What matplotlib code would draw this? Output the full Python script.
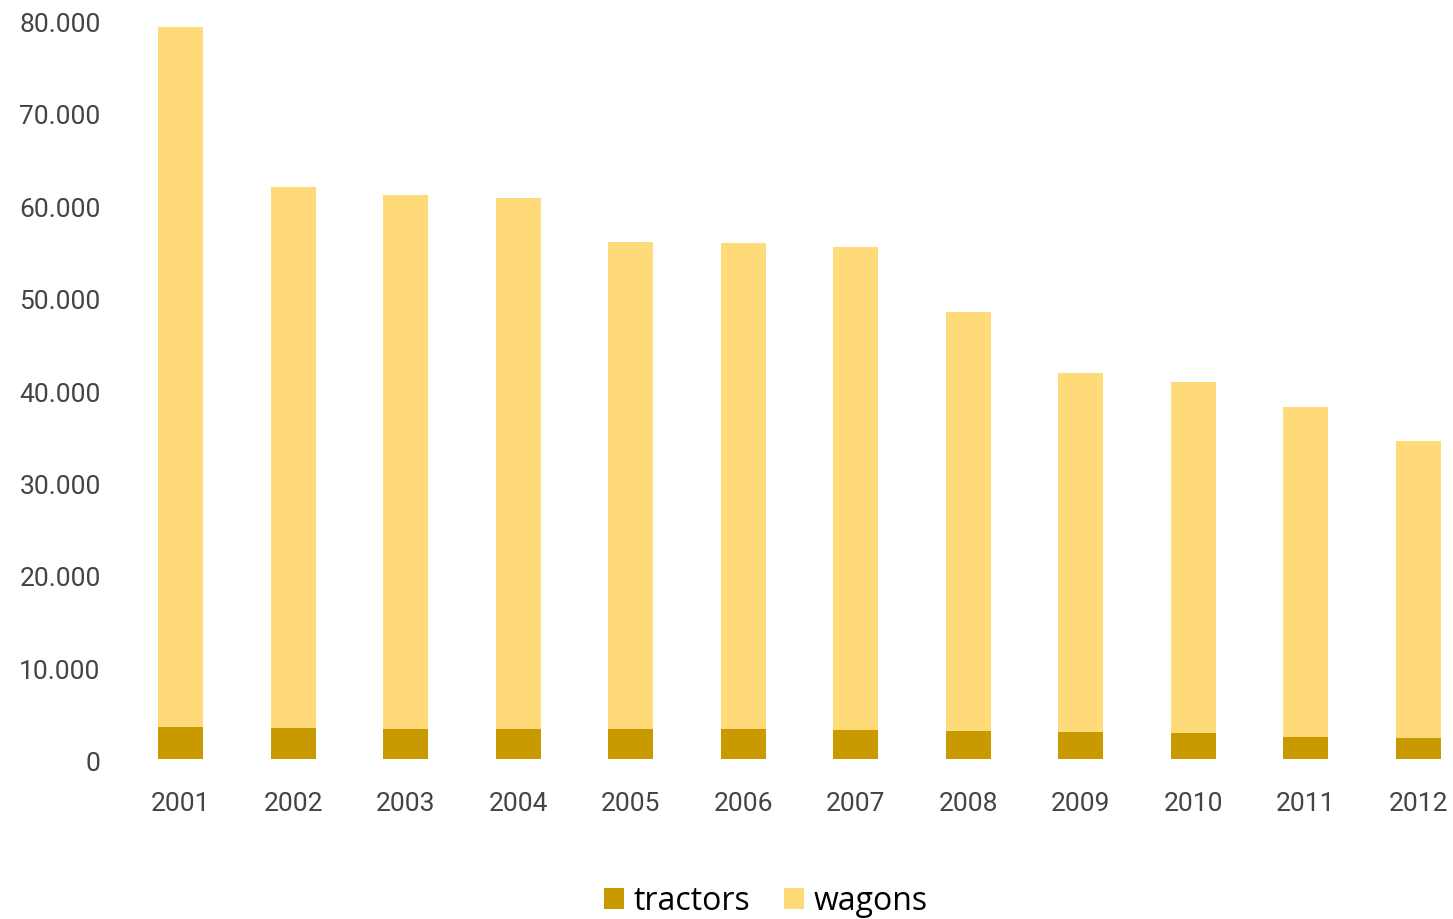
import matplotlib.pyplot as plt
from matplotlib.ticker import FuncFormatter
from matplotlib.transforms import ScaledTranslation

# yearly totals, split into tractors and wagons
years = ["2001", "2002", "2003", "2004", "2005", "2006",
         "2007", "2008", "2009", "2010", "2011", "2012"]
tractors = [3460, 3350, 3200, 3200, 3200, 3200, 3100, 3000, 2860, 2780, 2380, 2270]
wagons = [75740, 58550, 57800, 57500, 52700, 52600, 52300, 45300, 38840, 38020, 35720, 32130]

col_tractors = "#C99A00"
col_wagons = "#FEDB78"

fig = plt.figure(figsize=(14.53, 9.19), dpi=100)
ax = fig.add_axes([124.25 / 1453, 0.1744, (1446.6 - 124.25) / 1453, 0.8044])

x = range(len(years))
ax.bar(x, tractors, width=0.4, color=col_tractors, label="tractors")
ax.bar(x, wagons, width=0.4, bottom=tractors, color=col_wagons, label="wagons")

ax.set_xlim(-0.5, 11.25)
ax.set_ylim(0, 80000)
ax.set_yticks(range(0, 80001, 10000))
ax.yaxis.set_major_formatter(FuncFormatter(lambda v, p: f"{int(v):,}".replace(",", ".")))
ax.set_xticks(list(x))
ax.set_xticklabels(years)

for s in ax.spines.values():
    s.set_visible(False)

ax.tick_params(axis="y", length=0, pad=17, labelsize=19, labelcolor="#444444")
ax.tick_params(axis="x", length=0, pad=24, labelsize=19, labelcolor="#444444")
shift = ScaledTranslation(0, -3 / 100, fig.dpi_scale_trans)
for lab in ax.get_xticklabels() + ax.get_yticklabels():
    lab.set_family("Roboto")
    lab.set_fontweight("normal")
for lab in ax.get_yticklabels():
    lab.set_transform(lab.get_transform() + shift)

fig.legend(loc="center", bbox_to_anchor=(766 / 1453, 1 - 901 / 919), ncol=2,
           frameon=False, prop={"family": "Open Sans", "size": 23},
           handlelength=0.62, handleheight=0.62, handletextpad=0.3,
           columnspacing=1.05)

plt.savefig("out.png", dpi=100)
